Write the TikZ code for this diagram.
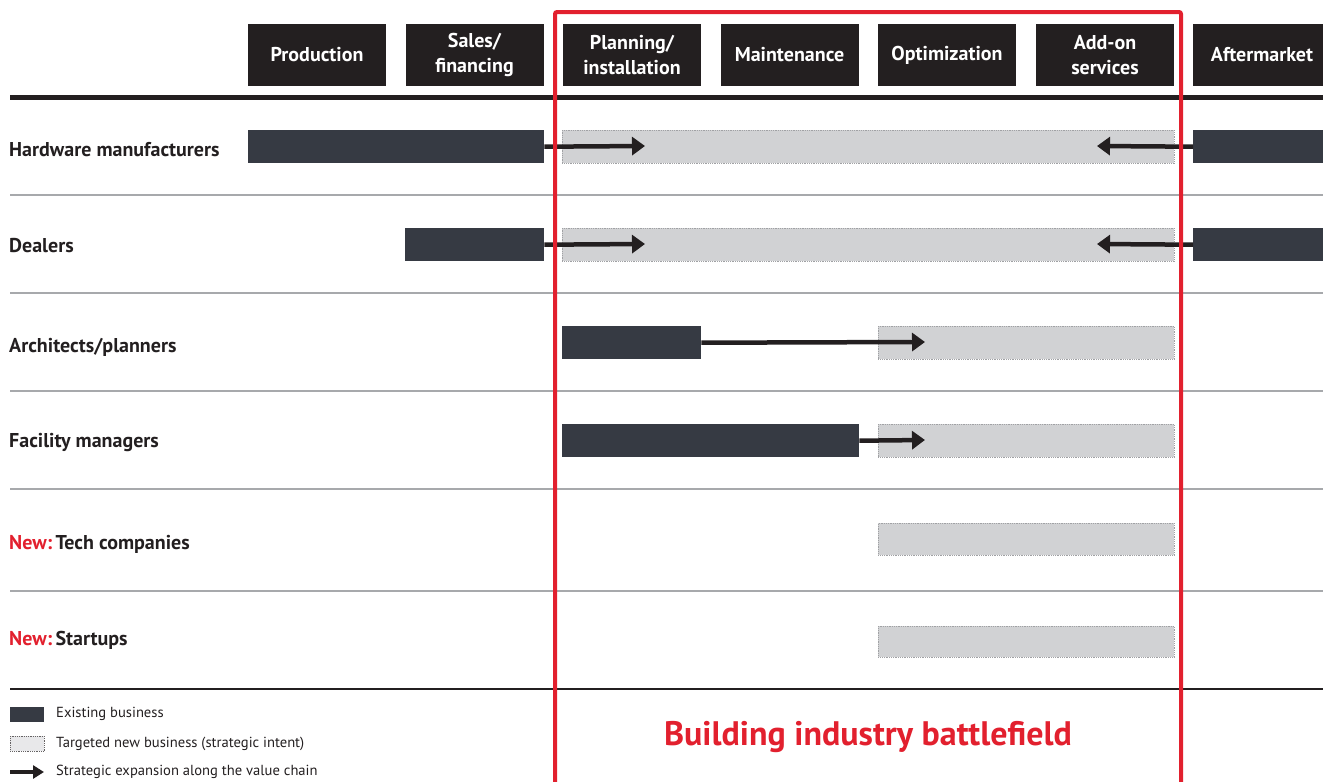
\documentclass[tikz,border=0pt]{standalone}
\usepackage{fontspec}
\setmainfont{PT Sans}
\usetikzlibrary{arrows.meta}
\definecolor{hdrblack}{HTML}{231F20}
\definecolor{bizdark}{HTML}{363A43}
\definecolor{bizgray}{HTML}{D1D2D4}
\definecolor{dotgray}{HTML}{A0A1A4}
\definecolor{rulegray}{HTML}{A7A9AC}
\definecolor{battlered}{HTML}{E2202E}
\begin{document}
\begin{tikzpicture}[x=1pt,y=-1pt]
	\tikzstyle{header}=[fill=hdrblack,text=white,font=\bfseries\fontsize{20}{25}\selectfont,align=center,minimum width=138pt,minimum height=62pt,inner sep=0pt]
	\tikzstyle{rowlabel}=[anchor=west,inner sep=0pt,font=\bfseries\fontsize{20}{24}\selectfont,text=hdrblack]
	\tikzstyle{existing}=[fill=bizdark,anchor=north west,inner sep=0pt,minimum height=33pt]
	\tikzstyle{target}=[fill=bizgray,draw=dotgray,line width=0.7pt,dash pattern=on 0.8pt off 1pt,anchor=north west,inner sep=0pt,minimum height=33pt]
	\tikzstyle{expand}=[draw=hdrblack,line width=4.5pt,-{Triangle[length=13pt,width=18pt]}]
	\tikzstyle{sep}=[draw=rulegray,line width=2pt]
	\tikzstyle{legend}=[anchor=west,inner sep=0pt,font=\fontsize{14.6}{17}\selectfont,text=hdrblack]
	\useasboundingbox (0,0) rectangle (1323,782);
	\begin{scope}
		% value chain
		\node [header] (prod) at (317,55) {Production};
		\node [header] (sales) at (474.5,55) {Sales/\\financing};
		\node [header] (plan) at (632,55) {Planning/\\installation};
		\node [header] (maint) at (789.5,55) {Maintenance};
		\node [header] (optim) at (947,55) {Optimization};
		\node [header] (addon) at (1105,55) {Add-on\\services};
		\node [header] (after) at (1262,55) {Aftermarket};
		\draw [draw=hdrblack,line width=5pt] (10,97) -- (1323,97);
	\end{scope}
	\begin{scope}
		% rows
		\node [rowlabel] (lhw) at (9,150) {Hardware manufacturers};
		\node [rowlabel] (ldeal) at (9,246) {Dealers};
		\node [rowlabel] (larch) at (9,347) {Architects/planners};
		\node [rowlabel] (lfac) at (9,443) {Facility managers};
		\node [rowlabel] (ltech) at (9,544) {\textcolor{battlered}{New:}\,Tech companies};
		\node [rowlabel] (lstart) at (9,640) {\textcolor{battlered}{New:}\,Startups};
		\foreach \y in {195,293,391,489,591} {
			\draw [sep] (10,\y) -- (1323,\y);
		}
		\draw [draw=hdrblack,line width=2pt] (10,689) -- (1323,689);
	\end{scope}
	\begin{scope}
		% bars
		\node [target,minimum width=612pt] (hwT) at (562,130) {};
		\node [existing,minimum width=296pt] (hwE) at (248,130) {};
		\node [existing,minimum width=140pt] (hwA) at (1193,130) {};
		\node [target,minimum width=612pt] (dealT) at (562,228) {};
		\node [existing,minimum width=139pt] (dealE) at (405,228) {};
		\node [existing,minimum width=140pt] (dealA) at (1193,228) {};
		\node [target,minimum width=296pt] (archT) at (878,326) {};
		\node [existing,minimum width=139pt] (archE) at (562,326) {};
		\node [target,minimum width=296pt] (facT) at (878,424) {};
		\node [existing,minimum width=297pt] (facE) at (562,424) {};
		\node [target,minimum width=296pt,minimum height=32pt] (techT) at (878,523) {};
		\node [target,minimum width=296pt,minimum height=31pt] (startT) at (878,626) {};
		\coordinate (hwR) at (645,146);
		\coordinate (hwL) at (1097,146);
		\coordinate (dealR) at (645,244);
		\coordinate (dealL) at (1097,244);
		\coordinate (archR) at (925,342);
		\coordinate (facR) at (925,440);
		\draw [expand] (hwE.east) -- (hwR);
		\draw [expand] (hwA.west) -- (hwL);
		\draw [expand] (dealE.east) -- (dealR);
		\draw [expand] (dealA.west) -- (dealL);
		\draw [expand] (archE.east) -- (archR);
		\draw [expand] (facE.east) -- (facR);
	\end{scope}
	\begin{scope}
		% legend
		\node [existing,minimum width=34pt,minimum height=15pt] (keyE) at (10,707) {};
		\node [legend] (keyEt) at (56,714) {Existing business};
		\node [target,minimum width=34pt,minimum height=15pt,fill=bizgray!50,draw=hdrblack!70] (keyT) at (10,736) {};
		\node [legend] (keyTt) at (56,744) {Targeted new business (strategic intent)};
		\coordinate (keyA0) at (10,772);
		\coordinate (keyA1) at (44,772);
		\draw [expand,line width=3.5pt,-{Triangle[length=11pt,width=13pt]}] (keyA0) -- (keyA1);
		\node [legend] (keyAt) at (56,772) {Strategic expansion along the value chain};
	\end{scope}
	% battlefield
	\draw [draw=battlered,line width=4pt,rounded corners=2pt] (555,800) -- (555,12) -- (1181,12) -- (1181,800);
	\node [font=\bfseries\fontsize{34}{40}\selectfont,text=battlered] (battle) at (868,737) {Building industry battlefield};
\end{tikzpicture}
\end{document}
